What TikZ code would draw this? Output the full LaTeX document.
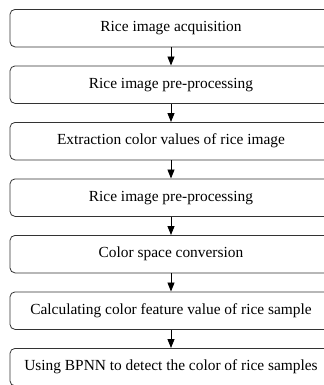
\documentclass[tikz,border=0pt]{standalone}
\usepackage{fontspec}
\setmainfont{Liberation Serif}
\usetikzlibrary{arrows.meta}
\begin{document}
\begin{tikzpicture}[x=1bp,y=-1bp,
  stepbox/.style={draw=black!80, line width=0.8bp, rounded corners=5bp,
    minimum width=322bp, minimum height=37.5bp, inner sep=0pt, anchor=north,
    font=\fontsize{15.4bp}{17bp}\selectfont},
  flow/.style={draw=black, line width=0.8bp, -{Triangle[length=9bp,width=7bp]}}]
\useasboundingbox (0,0) rectangle (324,385);
\clip (0,0) rectangle (324,385);
\node[stepbox] (s1) at (171,9) {Rice image acquisition};
\node[stepbox] (s2) at (171,65.5) {Rice image pre-processing};
\node[stepbox] (s3) at (171,122) {Extraction color values of rice image};
\node[stepbox] (s4) at (171,178.5) {Rice image pre-processing};
\node[stepbox] (s5) at (171,235) {Color space conversion};
\node[stepbox] (s6) at (171,291.5) {Calculating color feature value of rice sample};
\node[stepbox] (s7) at (171,348) {Using BPNN to detect the color of rice samples};
\draw[flow] (s1) -- (s2);
\draw[flow] (s2) -- (s3);
\draw[flow] (s3) -- (s4);
\draw[flow] (s4) -- (s5);
\draw[flow] (s5) -- (s6);
\draw[flow] (s6) -- (s7);
\end{tikzpicture}
\end{document}
